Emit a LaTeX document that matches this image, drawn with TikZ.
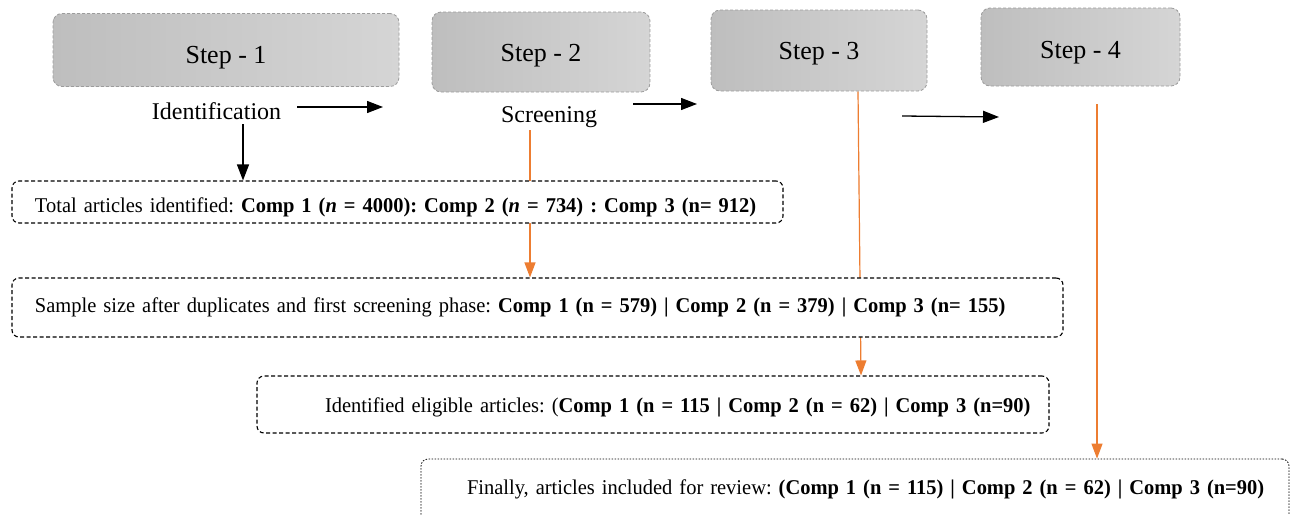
\documentclass[tikz,border=0pt]{standalone}
\usepackage{fontspec}
\setmainfont{Liberation Serif}
\newfontfamily\boxfont{Liberation Serif}[FakeStretch=0.975]
\usetikzlibrary{arrows.meta,calc}
\definecolor{accent}{HTML}{ED7D31}
\definecolor{stepleft}{HTML}{BEBEBE}
\definecolor{stepright}{HTML}{D5D5D5}
\definecolor{stepedge}{HTML}{9C9C9C}
\pgfdeclarelayer{bg}
\pgfsetlayers{bg,main}
\frenchspacing
\begin{document}
\begin{tikzpicture}[x=1pt,y=-1pt,
  stepbox/.style={rounded corners=9pt, left color=stepleft, right color=stepright,
    draw=stepedge, dash pattern=on 3pt off 2pt, line width=0.8pt,
    font=\fontsize{26}{30}\selectfont, inner sep=0pt},
  phase/.style={font=\fontsize{24}{28}\selectfont, inner sep=0pt, anchor=base},
  infobox/.style={draw=black, rounded corners=7pt, dash pattern=on 4pt off 2.5pt,
    line width=1.1pt, fill=white, inner xsep=0pt, inner ysep=0pt, align=left,
    font=\boxfont\fontsize{21}{25}\selectfont},
  flow/.style={-{Triangle[length=16pt,width=12pt]}, line width=1.3pt},
  oflow/.style={-{Triangle[length=15pt,width=11pt]}, draw=accent, fill=accent, line width=1.2pt}
]
\useasboundingbox (0,0) rectangle (1292,514);
\clip (0,0) rectangle (1292,514);

% the four step headers
\node[stepbox, minimum width=346pt, minimum height=73pt, text height=26pt, text depth=0pt] (s1) at (226,50) {Step - 1};
\node[stepbox, minimum width=218pt, minimum height=80pt, text height=20pt, text depth=2pt] (s2) at (541,52) {Step - 2};
\node[stepbox, minimum width=216pt, minimum height=81pt, text height=20pt, text depth=2pt] (s3) at (819,50.5) {Step - 3};
\node[stepbox, minimum width=199pt, minimum height=78pt, text height=22pt, text depth=0pt] (s4) at (1080.5,47) {Step - 4};

% phase labels
\node[phase] (id) at (216.5,119) {Identification};
\node[phase] (sc) at (549,122) {Screening};

% result boxes
\node[infobox, text width=771pt, minimum height=42pt, text height=20pt, text depth=0pt] (b1) at (397.5,202)
  {\hspace*{23pt}Total articles identified: \textbf{Comp 1 (\textit{n} = 4000): Comp 2 (\textit{n} = 734) : Comp 3 (n= 912)}};
\node[infobox, text width=1051pt, minimum height=59pt, text height=12pt, text depth=3pt] (b2) at (537.5,307.5)
  {\hspace*{23pt}Sample size after duplicates and first screening phase: \textbf{Comp 1 (n = 579) | Comp 2 (n = 379) | Comp 3 (n= 155)}};
\node[infobox, text width=792pt, minimum height=57pt, text height=16pt, text depth=1pt] (b3) at (653,404.5)
  {\hspace*{68pt}Identified eligible articles: (\textbf{Comp 1 (n = 115 | Comp 2 (n = 62) | Comp 3 (n=90)}};
\node[infobox, dash pattern=on 1.5pt off 1.5pt, line width=0.8pt, text width=868pt, minimum height=66pt,
  text height=10pt, text depth=6pt] (b4) at (855,492)
  {\hspace*{46pt}Finally, articles included for review: \textbf{(Comp 1 (n = 115) | Comp 2 (n = 62) | Comp 3 (n=90)}};

% connector end points
\coordinate (idout) at (243,124);
\coordinate (a1s) at (297,107);
\coordinate (a1e) at (383,107);
\coordinate (a2s) at (633,104);
\coordinate (a2e) at (697,104);
\coordinate (a3s) at (902,116);
\coordinate (a3e) at (999,117);
\coordinate (scout) at (530,130);
\coordinate (s3out) at ($(s3.south)+(39,0)$);
\coordinate (b3in) at (861,0);
\coordinate (s4out) at (1097,104);

% black flow arrows
\draw[flow] (a1s) -- (a1e);
\draw[flow] (a2s) -- (a2e);
\draw[flow] (a3s) -- (a3e);
\draw[flow] (idout) -- (idout |- b1.north);

% orange connectors, running behind the boxes
\begin{pgfonlayer}{bg}
\draw[oflow] (scout) -- (scout |- b2.north);
\draw[oflow] (s3out) -- (b3in |- b3.north);
\draw[oflow] (s4out) -- (s4out |- b4.north);
\end{pgfonlayer}
\end{tikzpicture}
\end{document}
